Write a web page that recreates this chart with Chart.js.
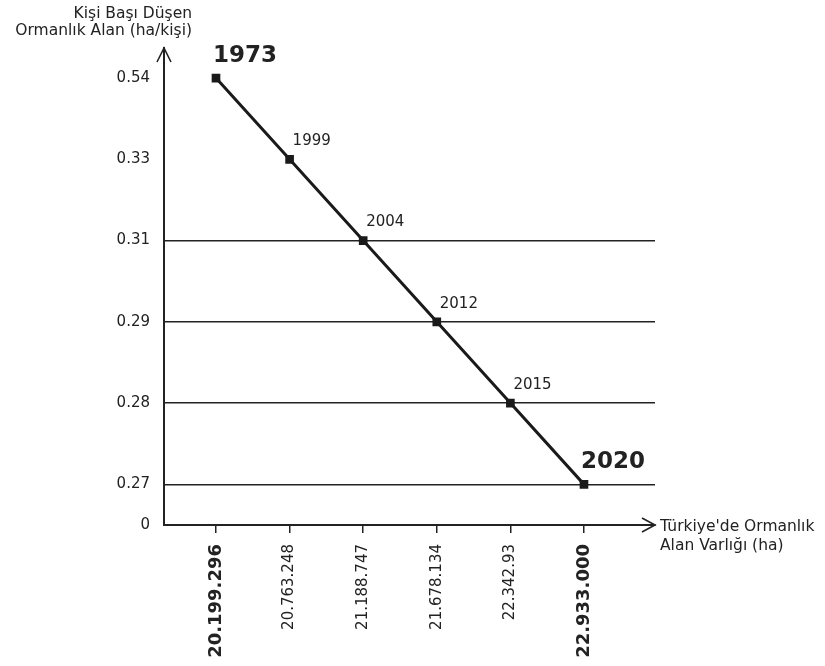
<!DOCTYPE html>
<html>
<head>
<meta charset="utf-8">
<script src="https://cdn.jsdelivr.net/npm/chart.js@4"></script>
<style>
  html, body { margin: 0; padding: 0; background: #fff; }
  #wrap { width: 825px; height: 666px; }
</style>
</head>
<body>
<div id="wrap"><canvas id="grafico-orman"></canvas></div>
<script>
// veriler
const alanlar = ["20.199.296", "20.763.248", "21.188.747", "21.678.134", "22.342.93", "22.933.000"];
const yillar = ["1973", "1999", "2004", "2012", "2015", "2020"];
const kisiBasi = ["0.54", "0.33", "0.31", "0.29", "0.28", "0.27"];
const yEtiketler = ["0", "0.27", "0.28", "0.29", "0.31", "0.33", "0.54"];

const koyu = "#222222";
const yazi = "'DejaVu Sans', sans-serif";

// y ekseninde her etiket bir basamak, 0 ise eksen başlangıcında
const yKonum = i => (i === 0 ? 0.5 : i);
const noktalar = alanlar.map((a, i) => ({ x: i, y: yKonum(yEtiketler.indexOf(kisiBasi[i])) }));

const okVeYazilar = {
  id: "okVeYazilar",
  afterDraw(chart) {
    const { ctx, chartArea: ca } = chart;
    ctx.save();
    ctx.strokeStyle = koyu;
    ctx.lineWidth = 1.6;
    // y oku
    ctx.beginPath();
    ctx.moveTo(ca.left - 7, ca.top + 14);
    ctx.lineTo(ca.left, ca.top);
    ctx.lineTo(ca.left + 7, ca.top + 14);
    ctx.stroke();
    // x oku
    ctx.beginPath();
    ctx.moveTo(ca.right - 13, ca.bottom - 7);
    ctx.lineTo(ca.right, ca.bottom);
    ctx.lineTo(ca.right - 13, ca.bottom + 7);
    ctx.stroke();

    ctx.fillStyle = koyu;
    ctx.font = "15.5px " + yazi;
    ctx.textBaseline = "middle";
    ctx.textAlign = "right";
    ctx.fillText("Kişi Başı Düşen", 192, 14);
    ctx.fillText("Ormanlık Alan (ha/kişi)", 192, 31);
    ctx.textAlign = "left";
    ctx.fillText("Türkiye'de Ormanlık", 660, 527);
    ctx.fillText("Alan Varlığı (ha)", 660, 546);

    // yıl etiketleri
    const meta = chart.getDatasetMeta(0);
    meta.data.forEach((p, i) => {
      const kalin = i === 0 || i === yillar.length - 1;
      ctx.font = kalin ? "bold 23px " + yazi : "15px " + yazi;
      ctx.textAlign = "left";
      ctx.textBaseline = "middle";
      ctx.fillText(yillar[i], p.x + (kalin ? -3 : 3), p.y - (kalin ? 22 : 18));
    });
    ctx.restore();
  }
};

new Chart(document.getElementById("grafico-orman"), {
  type: "line",
  data: {
    datasets: [{
      data: noktalar,
      borderColor: "#1a1a1a",
      backgroundColor: "#1a1a1a",
      borderWidth: 3,
      pointStyle: "rect",
      pointRadius: 4,
      tension: 0
    }]
  },
  options: {
    responsive: true,
    maintainAspectRatio: false,
    animation: false,
    layout: { padding: { left: 0, right: 170, top: 48, bottom: 0 } },
    plugins: { legend: { display: false }, tooltip: { enabled: false } },
    scales: {
      x: {
        type: "linear",
        min: -0.7065,
        max: 5.965,
        afterBuildTicks: ax => { ax.ticks = alanlar.map((a, i) => ({ value: i })); },
        afterFit: ax => { ax.height = 141; },
        border: { display: true, color: koyu, width: 2 },
        grid: { drawOnChartArea: false, color: koyu, lineWidth: 1.5, tickLength: 8 },
        ticks: {
          autoSkip: false,
          minRotation: 90,
          maxRotation: 90,
          padding: 11,
          color: koyu,
          font: c => (c.index === 0 || c.index === alanlar.length - 1)
            ? { family: yazi, size: 18, weight: "bold" }
            : { family: yazi, size: 15 },
          callback: v => alanlar[v]
        }
      },
      y: {
        type: "linear",
        min: 0.5,
        max: 6.37,
        afterBuildTicks: ax => { ax.ticks = yEtiketler.map((l, i) => ({ value: yKonum(i) })); },
        afterFit: ax => { ax.width = 164; },
        border: { display: true, color: koyu, width: 2 },
        grid: {
          drawTicks: false,
          lineWidth: 1.6,
          color: c => (c.tick && c.tick.value >= 1 && c.tick.value <= 4) ? koyu : "rgba(0,0,0,0)"
        },
        ticks: {
          autoSkip: false,
          padding: 14,
          color: koyu,
          font: { family: yazi, size: 15 },
          callback: (v, i) => yEtiketler[i]
        }
      }
    }
  },
  plugins: [okVeYazilar]
});
</script>
</body>
</html>
